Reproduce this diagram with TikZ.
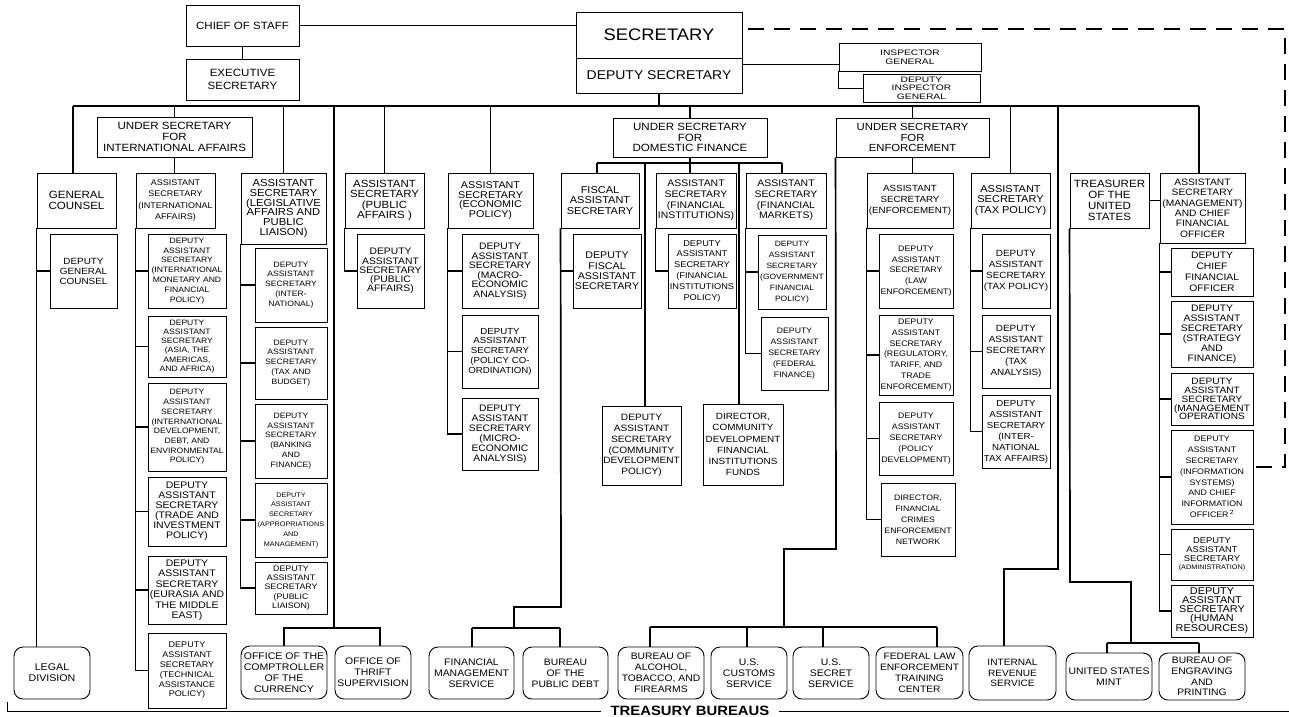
\documentclass[tikz,border=0pt]{standalone}
\usepackage{fontspec}
\setmainfont{Liberation Sans}[FakeStretch=1.1]
\newfontfamily\widefont{Liberation Sans}[FakeStretch=1.3]
\tikzset{
  box/.style={draw, line width=0.9pt, inner sep=0pt, align=center},
  bur/.style={rounded corners=9pt},
  fs/.style 2 args={font=\fontsize{#1}{#2}\selectfont},
  conn/.style={line width=1.7pt},
  thinl/.style={line width=0.9pt},
  dashl/.style={line width=1.7pt, dash pattern=on 16pt off 10pt, dash phase=20pt}
}
\newcommand\bx[7][]{%
  \pgfmathsetmacro\bxw{#5-#3}%
  \pgfmathsetmacro\bxh{#6-#4}%
  \node[box,#1,minimum width=\bxw pt,minimum height=\bxh pt] (#2) at ({(#3+#5)/2},{(#4+#6)/2}) {#7};}
\begin{document}
\begin{tikzpicture}[x=1pt,y=-1pt]
\useasboundingbox (0,0) rectangle (1289,716);
\clip (0,0) rectangle (1289,716);
% ---------- top ----------
\bx[fs={10.5}{11}]{cos}{186}{5}{299}{46}{CHIEF OF STAFF}
\bx[fs={10.5}{13}]{exec}{186}{59}{299}{100}{EXECUTIVE\\SECRETARY}
\bx[fs={16.7}{18}]{sec}{576}{12}{742}{58}{SECRETARY}
\bx[fs={12.7}{14}]{dep}{576}{58}{742}{93}{DEPUTY SECRETARY}
\bx[font=\widefont\fontsize{7.9}{9}\selectfont]{ig}{839}{43}{981}{71}{INSPECTOR\\GENERAL}
\bx[font=\widefont\fontsize{7.9}{8.4}\selectfont]{dig}{863}{74}{980}{102}{DEPUTY\\INSPECTOR\\GENERAL}
% ---------- under secretaries ----------
\bx[fs={10.5}{10.7}]{usi}{97}{117}{252}{157}{UNDER SECRETARY\\FOR\\INTERNATIONAL AFFAIRS}
\bx[fs={10.5}{10.5}]{usd}{613}{118}{767}{157}{UNDER SECRETARY\\FOR\\DOMESTIC FINANCE}
\bx[fs={10.3}{10.7}]{usenf}{836}{118}{989}{157}{UNDER SECRETARY\\FOR\\ENFORCEMENT}
% ---------- assistant secretaries row ----------
\bx[fs={10.5}{11}]{gc}{37}{173}{116}{228}{GENERAL\\COUNSEL}
\bx[fs={8.2}{11.5}]{asi}{136}{173}{215}{228}{ASSISTANT\\SECRETARY\\(INTERNATIONAL\\AFFAIRS)}
\bx[fs={10.2}{9.7}]{asl}{241}{173}{326}{244}{ASSISTANT\\SECRETARY\\(LEGISLATIVE\\AFFAIRS AND\\PUBLIC\\LIAISON)}
\bx[fs={10.4}{10.3}]{aspa}{345}{173}{424}{228}{ASSISTANT\\SECRETARY\\(PUBLIC\\AFFAIRS )}
\bx[fs={9.8}{9.4}]{asep}{448}{173}{533}{228}{ASSISTANT\\SECRETARY\\(ECONOMIC\\POLICY)}
\bx[fs={10}{10.7}]{fas}{561}{173}{639}{228}{FISCAL\\ASSISTANT\\SECRETARY}
\bx[fs={9.5}{10.7}]{asfi}{656}{173}{736}{228}{ASSISTANT\\SECRETARY\\(FINANCIAL\\INSTITUTIONS)}
\bx[fs={9.5}{10.7}]{asfm}{746}{173}{826}{228}{ASSISTANT\\SECRETARY\\(FINANCIAL\\MARKETS)}
\bx[fs={8.9}{10.7}]{ase}{867}{173}{953}{228}{ASSISTANT\\SECRETARY\\(ENFORCEMENT)}
\bx[fs={10}{10.8}]{astp}{971}{173}{1050}{228}{ASSISTANT\\SECRETARY\\(TAX POLICY)}
\bx[fs={10.5}{11}]{tus}{1070}{173}{1149}{228}{TREASURER\\OF THE\\UNITED\\STATES}
\bx[fs={9.3}{10.4}]{asm}{1160}{173}{1245}{243}{ASSISTANT\\SECRETARY\\(MANAGEMENT)\\AND CHIEF\\FINANCIAL\\OFFICER}
% ---------- deputies ----------
\bx[fs={9}{10}]{dgc}{50}{234}{117}{308}{DEPUTY\\GENERAL\\COUNSEL}
\bx[fs={7.8}{9.9}]{i1}{148}{234}{226}{308}{DEPUTY\\ASSISTANT\\SECRETARY\\(INTERNATIONAL\\MONETARY AND\\FINANCIAL\\POLICY)}
\bx[fs={7.8}{9.2}]{i2}{148}{316}{226}{377}{DEPUTY\\ASSISTANT\\SECRETARY\\(ASIA, THE\\AMERICAS,\\AND AFRICA)}
\bx[fs={7.8}{9.7}]{i3}{148}{383}{226}{471}{DEPUTY\\ASSISTANT\\SECRETARY\\(INTERNATIONAL\\DEVELOPMENT,\\DEBT, AND\\ENVIRONMENTAL\\POLICY)}
\bx[fs={9.5}{10}]{i4}{148}{477}{226}{546}{DEPUTY\\ASSISTANT\\SECRETARY\\(TRADE AND\\INVESTMENT\\POLICY)}
\bx[fs={9.5}{10.5}]{i5}{148}{556}{226}{624}{DEPUTY\\ASSISTANT\\SECRETARY\\(EURASIA AND\\THE MIDDLE\\EAST)}
\bx[fs={8.2}{9.8}]{i6}{148}{633}{226}{708}{DEPUTY\\ASSISTANT\\SECRETARY\\(TECHNICAL\\ASSISTANCE\\POLICY)}
\bx[fs={7.8}{9.9}]{l1}{255}{248}{327}{322}{DEPUTY\\ASSISTANT\\SECRETARY\\(INTER-\\NATIONAL)}
\bx[fs={7.8}{9.9}]{l2}{255}{327}{327}{399}{DEPUTY\\ASSISTANT\\SECRETARY\\(TAX AND\\BUDGET)}
\bx[fs={7.8}{9.9}]{l3}{255}{404}{327}{478}{DEPUTY\\ASSISTANT\\SECRETARY\\(BANKING\\AND\\FINANCE)}
\bx[fs={6.6}{9.8}]{l4}{255}{483}{327}{557}{DEPUTY\\ASSISTANT\\SECRETARY\\(APPROPRIATIONS\\AND\\MANAGEMENT)}
\bx[fs={8}{9.4}]{l5}{255}{562}{327}{614}{DEPUTY\\ASSISTANT\\SECRETARY\\(PUBLIC\\LIAISON)}
\bx[fs={9.4}{9.2}]{pa1}{357}{234}{424}{308}{DEPUTY\\ASSISTANT\\SECRETARY\\(PUBLIC\\AFFAIRS)}
\bx[fs={9.4}{9.5}]{e1}{462}{234}{538}{308}{DEPUTY\\ASSISTANT\\SECRETARY\\(MACRO-\\ECONOMIC\\ANALYSIS)}
\bx[fs={8.8}{9.8}]{e2}{462}{315}{538}{388}{DEPUTY\\ASSISTANT\\SECRETARY\\(POLICY CO-\\ORDINATION)}
\bx[fs={9.4}{9.9}]{e3}{462}{398}{538}{470}{DEPUTY\\ASSISTANT\\SECRETARY\\(MICRO-\\ECONOMIC\\ANALYSIS)}
\bx[fs={9.7}{10.3}]{f1}{573}{234}{641}{308}{DEPUTY\\FISCAL\\ASSISTANT\\SECRETARY}
\bx[fs={9.2}{10.8}]{cdp}{602}{406}{681}{485}{DEPUTY\\ASSISTANT\\SECRETARY\\(COMMUNITY\\DEVELOPMENT\\POLICY)}
\bx[fs={9}{11.2}]{cdfi}{703}{404}{783}{485}{DIRECTOR,\\COMMUNITY\\DEVELOPMENT\\FINANCIAL\\INSTITUTIONS\\FUNDS}
\bx[fs={8.4}{10.8}]{fi1}{668}{234}{736}{308}{DEPUTY\\ASSISTANT\\SECRETARY\\(FINANCIAL\\INSTITUTIONS\\POLICY)}
\bx[fs={7.7}{10.9}]{fm1}{758}{235}{826}{309}{DEPUTY\\ASSISTANT\\SECRETARY\\(GOVERNMENT\\FINANCIAL\\POLICY)}
\bx[fs={7.9}{11}]{fm2}{761}{317}{828}{390}{DEPUTY\\ASSISTANT\\SECRETARY\\(FEDERAL\\FINANCE)}
\bx[fs={8}{10.7}]{en1}{879}{234}{953}{308}{DEPUTY\\ASSISTANT\\SECRETARY\\(LAW\\ENFORCEMENT)}
\bx[fs={8}{10.8}]{en2}{879}{315}{953}{395}{DEPUTY\\ASSISTANT\\SECRETARY\\(REGULATORY,\\TARIFF, AND\\TRADE\\ENFORCEMENT)}
\bx[fs={8}{10.8}]{en3}{879}{402}{953}{475}{DEPUTY\\ASSISTANT\\SECRETARY\\(POLICY\\DEVELOPMENT)}
\bx[fs={7.9}{11}]{en4}{881}{483}{955}{556}{DIRECTOR,\\FINANCIAL\\CRIMES\\ENFORCEMENT\\NETWORK}
\bx[fs={9}{10.8}]{t1}{982}{234}{1050}{308}{DEPUTY\\ASSISTANT\\SECRETARY\\(TAX POLICY)}
\bx[fs={9}{11}]{t2}{982}{315}{1050}{388}{DEPUTY\\ASSISTANT\\SECRETARY\\(TAX\\ANALYSIS)}
\bx[fs={8.8}{11}]{t3}{982}{395}{1050}{468}{DEPUTY\\ASSISTANT\\SECRETARY\\(INTER-\\NATIONAL\\TAX AFFAIRS)}
\bx[fs={9.4}{11.1}]{m1}{1171}{248}{1253}{296}{DEPUTY\\CHIEF\\FINANCIAL\\OFFICER}
\bx[fs={9.4}{9.9}]{m2}{1171}{301}{1253}{367}{DEPUTY\\ASSISTANT\\SECRETARY\\(STRATEGY\\AND\\FINANCE)}
\bx[fs={9.2}{8.9}]{m3}{1171}{373}{1253}{425}{DEPUTY\\ASSISTANT\\SECRETARY\\(MANAGEMENT\\OPERATIONS}
\bx[fs={8}{10.8}]{m4}{1171}{430}{1253}{524}{DEPUTY\\ASSISTANT\\SECRETARY\\(INFORMATION\\SYSTEMS)\\AND CHIEF\\INFORMATION\\OFFICER\,\textsuperscript{2}}
\bx[fs={8.5}{8.7}]{m5}{1171}{529}{1253}{580}{DEPUTY\\ASSISTANT\\SECRETARY\\{\fontsize{6.6}{8.7}\selectfont (ADMINISTRATION)}}
\bx[fs={9.9}{8.9}]{m6}{1171}{585}{1253}{637}{DEPUTY\\ASSISTANT\\SECRETARY\\(HUMAN\\RESOURCES)}
% ---------- bureaus ----------
\bx[bur,fs={9.7}{11}]{legal}{14}{647}{90}{699}{LEGAL\\DIVISION}
\bx[bur,fs={9.6}{10.9}]{occ}{241}{646}{327}{699}{OFFICE OF THE\\COMPTROLLER\\OF THE\\CURRENCY}
\bx[bur,fs={9.5}{10.8}]{ots}{335}{646}{411}{699}{OFFICE OF\\THRIFT\\SUPERVISION}
\bx[bur,fs={9.5}{10.8}]{fms}{429}{647}{514}{699}{FINANCIAL\\MANAGEMENT\\SERVICE}
\bx[bur,fs={9.4}{10.8}]{bpd}{523}{647}{608}{699}{BUREAU\\OF THE\\PUBLIC DEBT}
\bx[bur,fs={9.4}{11}]{atf}{618}{647}{704}{699}{BUREAU OF\\ALCOHOL,\\TOBACCO, AND\\FIREARMS}
\bx[bur,fs={9.5}{11}]{cus}{711}{647}{787}{699}{U.S.\\CUSTOMS\\SERVICE}
\bx[bur,fs={9.5}{11}]{ss}{793}{647}{869}{699}{U.S.\\SECRET\\SERVICE}
\bx[bur,fs={9.3}{10.8}]{fletc}{876}{647}{963}{699}{FEDERAL LAW\\ENFORCEMENT\\TRAINING\\CENTER}
\bx[bur,fs={9.2}{10.8}]{irs}{969}{646}{1056}{700}{INTERNAL\\REVENUE\\SERVICE}
\bx[bur,fs={9.5}{11}]{mint}{1066}{653}{1152}{700}{UNITED STATES\\MINT}
\bx[bur,fs={9.4}{10.8}]{bep}{1159}{653}{1245}{700}{BUREAU OF\\ENGRAVING\\AND\\PRINTING}
% ---------- connectors: top ----------
\draw[thinl] (cos.east) -- (cos.east -| sec.west);
\draw[conn] (cos.south) -- (exec.north);
\coordinate (busL) at (73,106);
\coordinate (busR) at (1199,106);
\draw[conn] (busL) -- (busR);
\draw[conn] (dep.south) -- (dep.south |- busL);
\coordinate (igL) at (839,64);
\draw[thinl] (igL -| dep.east) -- (igL);
\draw[thinl] (ig.south west) |- (dig.west);
\coordinate (dA) at (1285,29);
\coordinate (dB) at (1285,467);
\draw[dashl] (sec.east |- dA) -- (dA) -- (dB) -- (dB -| m4.east);
% drops from the main bus
\draw[conn] (busL) -- (busL |- gc.north);
\foreach \n in {usi,asl,aspa,asep,usd,usenf,astp} \draw[conn] (\n.north |- busL) -- (\n.north);
\draw[conn] (busR) -- (busR |- asm.north);
% general counsel
\draw[conn] (gc.south west) -- (gc.south west |- legal.north);
\draw[conn] (dgc.west) -- (dgc.west -| gc.west);
% international
\draw[conn] (usi.south) -- (usi.south |- asi.north);
\draw[conn] (asi.south west) |- (i6.west);
\foreach \n in {i1,i2,i3,i4,i5} \draw[conn] (\n.west) -- (\n.west -| asi.west);
% legislative
\draw[conn] (asl.south west) |- (l5.west);
\foreach \n in {l1,l2,l3,l4} \draw[conn] (\n.west) -- (\n.west -| asl.west);
% comptroller / thrift
\coordinate (cv) at (334,106);
\coordinate (cb) at (334,628);
\coordinate (otsd) at (380,628);
\draw[conn] (cv) -- (cb);
\draw[conn] (occ.north) |- (otsd) -- (otsd |- ots.north);
% public affairs / economic policy
\draw[conn] (aspa.south west) |- (pa1.west);
\draw[conn] (asep.south west) |- (e3.west);
\foreach \n in {e1,e2} \draw[conn] (\n.west) -- (\n.west -| asep.west);
% domestic finance
\coordinate (dfL) at (597,163);
\coordinate (dfR) at (782,163);
\coordinate (cd1) at (645,163);
\coordinate (cd2) at (739,163);
\draw[conn] (usd.south) -- (usd.south |- dfL);
\draw[conn] (dfL) -- (dfR);
\draw[conn] (dfL) -- (dfL |- fas.north);
\draw[conn] (usd.south |- dfL) -- (usd.south |- asfi.north);
\draw[conn] (dfR) -- (dfR |- asfm.north);
\draw[conn] (cd1) -- (cd1 |- cdp.north);
\draw[conn] (cd2) -- (cd2 |- cdfi.north);
\draw[conn] (f1.west) -- (f1.west -| fas.west);
\coordinate (fA) at (561,607);
\coordinate (fB) at (514,607);
\coordinate (fb1) at (472,628);
\coordinate (fb2) at (560,628);
\draw[conn] (fas.south west) -- (fA) -- (fB) -- (fB |- fb1);
\draw[conn] (fb1) -- (fb2);
\draw[conn] (fb1) -- (fb1 |- fms.north);
\draw[conn] (fb2) -- (fb2 |- bpd.north);
\draw[conn] (asfi.south west) |- (fi1.west);
\draw[conn] (asfm.south west) |- (fm2.west);
\draw[conn] (fm1.west) -- (fm1.west -| asfm.west);
% enforcement
\draw[conn] (usenf.south) -- (usenf.south |- ase.north);
\draw[conn] (ase.south west) |- (en4.west);
\foreach \n in {en1,en2,en3} \draw[conn] (\n.west) -- (\n.west -| ase.west);
\coordinate (eA) at (836,549);
\coordinate (eB) at (784,549);
\coordinate (eb1) at (650,627);
\coordinate (eb2) at (747,627);
\coordinate (eb3) at (823,627);
\coordinate (eb4) at (937,627);
\draw[conn] (usenf.south west) -- (eA) -- (eB) -- (eB |- eb1);
\draw[conn] (eb1) -- (eb4);
\draw[conn] (eb1) -- (eb1 |- atf.north);
\draw[conn] (eb2) -- (eb2 |- cus.north);
\draw[conn] (eb3) -- (eb3 |- ss.north);
\draw[conn] (eb4) -- (eb4 |- fletc.north);
% tax policy
\draw[conn] (astp.south west) |- (t3.west);
\foreach \n in {t1,t2} \draw[conn] (\n.west) -- (\n.west -| astp.west);
% IRS
\coordinate (rA) at (1058,106);
\coordinate (rB) at (1058,569);
\coordinate (rC) at (1004,569);
\draw[conn] (rA) -- (rB) -- (rC) -- (rC |- irs.north);
% treasurer / mint / engraving
\draw[conn] (tus.east) -- (tus.east -| asm.west);
\coordinate (tA) at (1070,582);
\coordinate (tB) at (1131,582);
\coordinate (mb1) at (1107,643);
\coordinate (mb2) at (1199,643);
\draw[conn] (tus.south west) -- (tA) -- (tB) -- (tB |- mb1);
\draw[conn] (mb1) -- (mb2);
\draw[conn] (mb1) -- (mb1 |- mint.north);
\draw[conn] (mb2) -- (mb2 |- bep.north);
% management
\draw[conn] (asm.south west) |- (m6.west);
\foreach \n in {m1,m2,m3,m4,m5} \draw[conn] (\n.west) -- (\n.west -| asm.west);
% treasury bureaus bracket
\node[font=\bfseries\fontsize{13.5}{14}\selectfont, inner xsep=9pt, inner ysep=0pt, anchor=base] (tb) at (690,715) {TREASURY BUREAUS};
\coordinate (k1) at (7,702);
\coordinate (k2) at (7,711);
\coordinate (k3) at (1289,711);
\draw[thinl] (k1) -- (k2) -- (k2 -| tb.west);
\draw[thinl] (tb.east |- k3) -- (k3);
\end{tikzpicture}
\end{document}
